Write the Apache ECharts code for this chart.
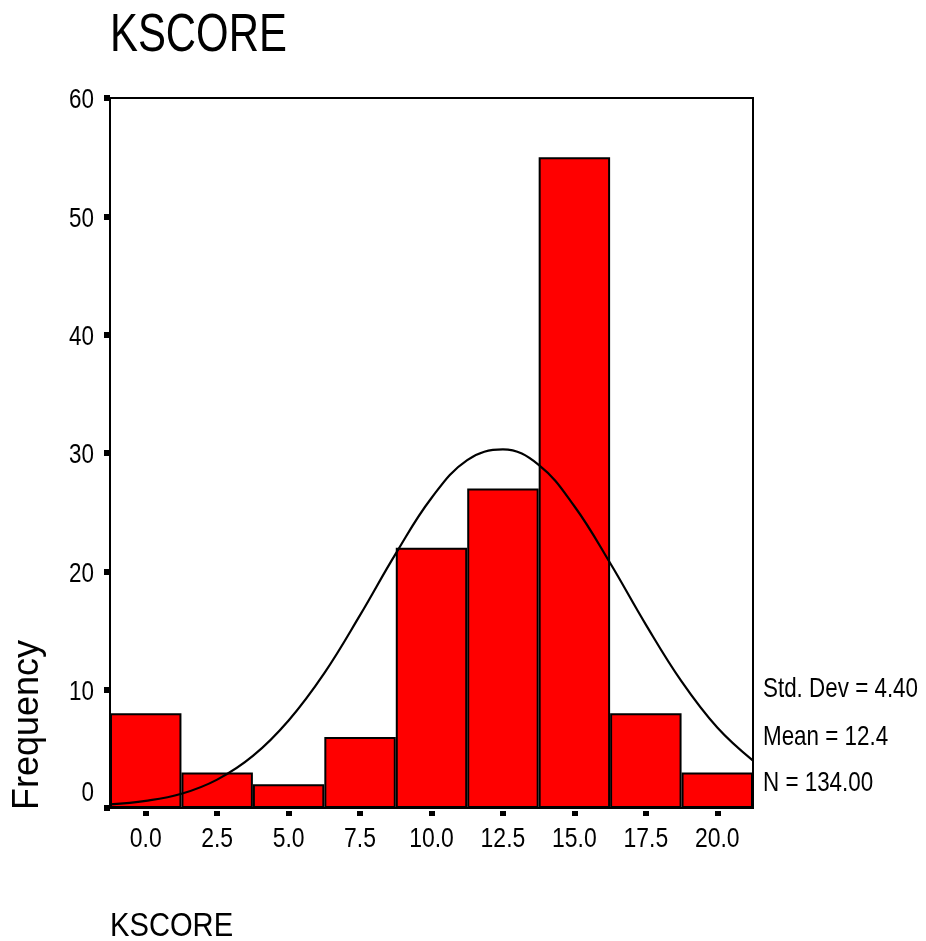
<!DOCTYPE html>
<html><head><meta charset="utf-8">
<script src="https://cdn.jsdelivr.net/npm/echarts@6/dist/echarts.min.js"></script>
<style>html,body{margin:0;padding:0;background:#fff}#c{width:926px;height:941px}</style>
</head><body><div id="c"></div>
<script>
// Histogram bins (category tick labels = bin centres)
const tickLabels = ['0.0','2.5','5.0','7.5','10.0','12.5','15.0','17.5','20.0'];
const frequencies = [8, 3, 2, 6, 22, 27, 55, 8, 3];
// Normal curve: x positions and heights
const curveX = [-1.25, 0, 1.25, 2.5, 3.75, 5, 6.25, 7.5, 8.75, 10, 11.25, 12.5, 13.75, 15, 16.25, 17.5, 18.75, 20, 21.25];
const curveY = [0.3, 0.6, 1.2, 2.4, 4.4, 7.4, 11.4, 16.3, 21.5, 26.2, 29.4, 30.3, 29.0, 25.5, 20.7, 15.5, 10.7, 6.8, 4.0];
const yTicks = [0, 10, 20, 30, 40, 50, 60];
const stats = ['Std. Dev = 4.40', 'Mean = 12.4', 'N = 134.00'];
const titleText = 'KSCORE';
const xName = 'KSCORE';
const yName = 'Frequency';

const REG = "'Liberation Sans', Arial, sans-serif";

const chart = echarts.init(document.getElementById('c'), null, {renderer: 'canvas'});
const G = {left: 110, top: 98, right: 173, bottom: 133};

chart.setOption({
  animation: false,
  backgroundColor: '#fff',
  grid: {left: G.left, top: G.top, right: G.right, bottom: G.bottom, show: true,
         borderColor: '#000', borderWidth: 2, backgroundColor: 'transparent', containLabel: false},
  xAxis: [
    {type: 'category', data: tickLabels, boundaryGap: true, offset: 3,
     axisLine: {show: false, onZero: false},
     axisTick: {show: true, alignWithLabel: true, length: 5, lineStyle: {color: '#000', width: 6}},
     axisLabel: {show: false},
     splitLine: {show: false}},
    {type: 'value', min: -1.25, max: 21.25, show: false}
  ],
  yAxis: {type: 'value', min: 0, max: 60, interval: 10,
    axisLine: {show: true, onZero: false, lineStyle: {color: '#000', width: 2}},
    axisTick: {show: true, length: 6, lineStyle: {color: '#000', width: 6}},
    axisLabel: {show: false},
    splitLine: {show: false}},
  series: [
    {type: 'bar', xAxisIndex: 0, data: frequencies, barCategoryGap: '0%',
     itemStyle: {color: '#ff0000', borderColor: '#000', borderWidth: 2}, z: 2},
    {type: 'line', xAxisIndex: 1, data: curveX.map((x, i) => [x, curveY[i]]),
     smooth: 0.4, showSymbol: false, lineStyle: {color: '#000', width: 2.2}, z: 3}
  ]
});

// Narrow (Arial Narrow-like) text: Liberation Sans compressed horizontally
function narrowText(text, x, y, size, sx, align) {
  return {type: 'text', x: x, y: y, scaleX: sx, scaleY: 1, z: 100,
    style: {text: text, fill: '#000', font: size + 'px ' + REG,
            textAlign: align || 'left', textVerticalAlign: 'middle'}};
}

const g = [];
// tick labels placed through the library's own scales
tickLabels.forEach(lbl => {
  const px = chart.convertToPixel({xAxisIndex: 0}, lbl);
  g.push(narrowText(lbl, px, 839.5, 27, 0.85, 'center'));
});
yTicks.forEach(v => {
  const py = chart.convertToPixel({yAxisIndex: 0}, v);
  g.push(narrowText(String(v), 94, v === 0 ? py - 14 : py + 3, 27, 0.83, 'right'));
});
g.push(narrowText(titleText, 110, 36, 53, 0.79, 'left'));
g.push(narrowText(xName, 110, 927, 33.5, 0.87, 'left'));
g.push(narrowText(stats[0], 763, 689, 28, 0.8, 'left'));
g.push(narrowText(stats[1], 763, 737, 28, 0.8, 'left'));
g.push(narrowText(stats[2], 763, 783.5, 28, 0.8, 'left'));
g.push({type: 'text', x: 28, y: 725, rotation: Math.PI / 2, z: 100,
  style: {text: yName, fill: '#000', font: '36px ' + REG, textAlign: 'center', textVerticalAlign: 'middle'}});

chart.setOption({graphic: g});
</script></body></html>
